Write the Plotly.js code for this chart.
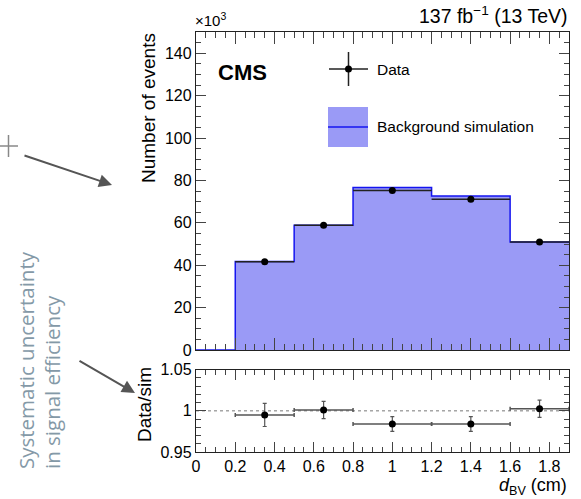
<!DOCTYPE html>
<html><head><meta charset="utf-8">
<script src="https://cdn.plot.ly/plotly-3.0.1.min.js"></script>
<style>html,body{margin:0;padding:0;background:#fff}#c{width:581px;height:499px}</style>
</head><body><div id="c"></div>
<script>
// ---- data (values in units of 10^3 events) ----
const binEdges = [0, 0.2, 0.5, 0.8, 1.2, 1.6, 1.9];
const simCounts = [0, 41.7, 58.8, 76.6, 72.6, 50.9];
const dataX = [0.35, 0.65, 1.0, 1.4, 1.75];
const dataLo = [0.2, 0.5, 0.8, 1.2, 1.6];
const dataHi = [0.5, 0.8, 1.2, 1.6, 1.9];
const dataCounts = [41.6, 58.8, 75.2, 71.1, 50.9];
const dataErr = [0.2, 0.24, 0.27, 0.27, 0.23];
const ratio = [0.995, 1.001, 0.984, 0.984, 1.0025];
const ratioErr = [0.014, 0.0105, 0.009, 0.009, 0.0105];
const ratioTickVals = [0.95, 1, 1.05];
const ratioTickText = ["0.95", "1", "1.05"];

// ---- geometry helpers (pixel -> paper) ----
const L = 196, R = 12, T = 32, B = 47, W = 581, H = 499;
const pw = W - L - R, ph = H - T - B;
const px = x => (x - L) / pw;
const py = y => (H - B - y) / ph;

const FONT = "Liberation Sans, Arial, sans-serif";
const SIDE = "Open Sans, Lato, sans-serif";
const halfLo = dataX.map((x, i) => x - dataLo[i]);
const halfHi = dataX.map((x, i) => dataHi[i] - x);
const simY = simCounts.concat([simCounts[simCounts.length - 1]]);

const traces = [
  { x: binEdges, y: simY, type: 'scatter', mode: 'lines', line: { shape: 'hv', color: '#1515f0', width: 1.5 },
    fill: 'tozeroy', fillcolor: 'rgba(145,145,245,0.92)', xaxis: 'x', yaxis: 'y', hoverinfo: 'skip' },
  { x: dataX, y: dataCounts, type: 'scatter', mode: 'markers', marker: { color: '#000', size: 7 },
    error_x: { type: 'data', symmetric: false, array: halfHi, arrayminus: halfLo, color: '#222', thickness: 1.5, width: 0 },
    error_y: { type: 'data', array: dataErr, color: '#222', thickness: 1.5, width: 0 },
    xaxis: 'x', yaxis: 'y', hoverinfo: 'skip' },
  { x: dataX, y: ratio, type: 'scatter', mode: 'markers', marker: { color: '#000', size: 7 },
    error_x: { type: 'data', symmetric: false, array: halfHi, arrayminus: halfLo, color: '#555', thickness: 1.5, width: 2 },
    error_y: { type: 'data', array: ratioErr, color: '#555', thickness: 1.2, width: 2 },
    xaxis: 'x2', yaxis: 'y2', hoverinfo: 'skip' }
];

const axBase = {
  showline: true, linecolor: '#222', linewidth: 1.2, mirror: 'allticks', ticks: 'inside',
  tickcolor: '#444', tickwidth: 1, showgrid: false, zeroline: false,
  tickfont: { family: FONT, size: 16, color: '#000' }
};

const domMainBottom = py(350), domRatioTop = py(369.7);

const layout = {
  width: W, height: H, paper_bgcolor: '#fff', plot_bgcolor: '#fff', showlegend: false,
  margin: { l: L, r: R, t: T, b: B },
  font: { family: FONT, color: '#000' },
  xaxis: Object.assign({}, axBase, { domain: [0, 1], range: [0, 1.9], anchor: 'y', dtick: 0.2, tick0: 0,
    ticklen: 12, showticklabels: false,
    minor: { dtick: 0.05, tick0: 0, ticks: 'inside', ticklen: 6, tickcolor: '#444', showgrid: false } }),
  yaxis: Object.assign({}, axBase, { domain: [domMainBottom, 1], range: [0, 150], anchor: 'x', dtick: 20, tick0: 0,
    ticklen: 10,
    minor: { dtick: 5, tick0: 0, ticks: 'inside', ticklen: 5, tickcolor: '#444', showgrid: false } }),
  xaxis2: Object.assign({}, axBase, { domain: [0, 1], range: [0, 1.9], anchor: 'y2', dtick: 0.2, tick0: 0,
    ticklen: 10, matches: 'x',
    minor: { dtick: 0.05, tick0: 0, ticks: 'inside', ticklen: 5, tickcolor: '#444', showgrid: false } }),
  yaxis2: Object.assign({}, axBase, { domain: [0, domRatioTop], range: [0.95, 1.05], anchor: 'x2',
    tickmode: 'array', tickvals: ratioTickVals, ticktext: ratioTickText, ticklen: 10,
    minor: { dtick: 0.01, tick0: 0.95, ticks: 'inside', ticklen: 5, tickcolor: '#444', showgrid: false } }),
  shapes: [
    { type: 'line', xref: 'x2', yref: 'y2', x0: 0, x1: 1.9, y0: 1, y1: 1, line: { color: '#777', width: 1, dash: 'dot' }, layer: 'below' },
    // legend symbols
    { type: 'rect', xref: 'paper', yref: 'paper', x0: px(328), x1: px(368), y0: py(147), y1: py(107), fillcolor: 'rgba(145,145,245,0.92)', line: { width: 0 } },
    { type: 'line', xref: 'paper', yref: 'paper', x0: px(328), x1: px(368), y0: py(127), y1: py(127), line: { color: '#1515f0', width: 1.5 } },
    { type: 'line', xref: 'paper', yref: 'paper', x0: px(329), x1: px(368), y0: py(69), y1: py(69), line: { color: '#222', width: 1.5 } },
    { type: 'line', xref: 'paper', yref: 'paper', x0: px(348.5), x1: px(348.5), y0: py(52), y1: py(86), line: { color: '#222', width: 1.5 } },
    { type: 'circle', xref: 'paper', yref: 'paper', x0: px(345), x1: px(352), y0: py(72.5), y1: py(65.5), fillcolor: '#000', line: { width: 0 } },
    // "+" mark
    { type: 'line', xref: 'paper', yref: 'paper', x0: px(0), x1: px(18), y0: py(146), y1: py(146), line: { color: '#888', width: 1.5 } },
    { type: 'line', xref: 'paper', yref: 'paper', x0: px(8.5), x1: px(8.5), y0: py(135), y1: py(157), line: { color: '#888', width: 1.5 } }
  ],
  annotations: [
    { xref: 'paper', yref: 'paper', x: px(570), y: py(29), xanchor: 'right', yanchor: 'bottom', showarrow: false,
      text: '137 fb<sup>\u22121</sup> (13 TeV)', font: { family: FONT, size: 19.5, color: '#000' } },
    { xref: 'paper', yref: 'paper', x: px(193), y: py(31), xanchor: 'left', yanchor: 'bottom', showarrow: false,
      text: '\u00d710<sup>3</sup>', font: { family: FONT, size: 15, color: '#000' } },
    { xref: 'paper', yref: 'paper', x: px(216), y: py(72), xanchor: 'left', yanchor: 'middle', showarrow: false,
      text: '<b>CMS</b>', font: { family: FONT, size: 22, color: '#000' } },
    { xref: 'paper', yref: 'paper', x: px(375), y: py(69), xanchor: 'left', yanchor: 'middle', showarrow: false,
      text: 'Data', font: { family: FONT, size: 15.5, color: '#000' } },
    { xref: 'paper', yref: 'paper', x: px(375), y: py(127), xanchor: 'left', yanchor: 'middle', showarrow: false,
      text: 'Background simulation', font: { family: FONT, size: 15.5, color: '#000' } },
    { xref: 'paper', yref: 'paper', x: px(148), y: py(31), xanchor: 'center', yanchor: 'top', textangle: -90, showarrow: false,
      text: 'Number of events', font: { family: FONT, size: 19, color: '#000' } },
    { xref: 'paper', yref: 'paper', x: px(144), y: py(405), xanchor: 'center', yanchor: 'middle', textangle: -90, showarrow: false,
      text: 'Data/sim', font: { family: FONT, size: 19, color: '#000' } },
    { xref: 'paper', yref: 'paper', x: px(569), y: py(486), xanchor: 'right', yanchor: 'middle', showarrow: false,
      text: '<i>d</i><sub>BV</sub> (cm)', font: { family: FONT, size: 18, color: '#000' } },
    { xref: 'paper', yref: 'paper', x: px(26), y: py(471), xanchor: 'center', yanchor: 'bottom', textangle: -90, showarrow: false,
      text: 'Systematic uncertainty', font: { family: SIDE, size: 20.5, color: '#8499a7' } },
    { xref: 'paper', yref: 'paper', x: px(52), y: py(471), xanchor: 'center', yanchor: 'bottom', textangle: -90, showarrow: false,
      text: 'in signal efficiency', font: { family: SIDE, size: 20.5, color: '#8499a7' } },
    { xref: 'paper', yref: 'paper', x: px(112), y: py(185), ax: -89, ay: -30, text: '', showarrow: true,
      arrowhead: 2, arrowsize: 1.3, arrowwidth: 2, arrowcolor: '#555' },
    { xref: 'paper', yref: 'paper', x: px(135), y: py(393), ax: -57, ay: -33, text: '', showarrow: true,
      arrowhead: 2, arrowsize: 1.3, arrowwidth: 2, arrowcolor: '#555' }
  ]
};

Plotly.newPlot('c', traces, layout, { staticPlot: true, displayModeBar: false });
</script></body></html>
